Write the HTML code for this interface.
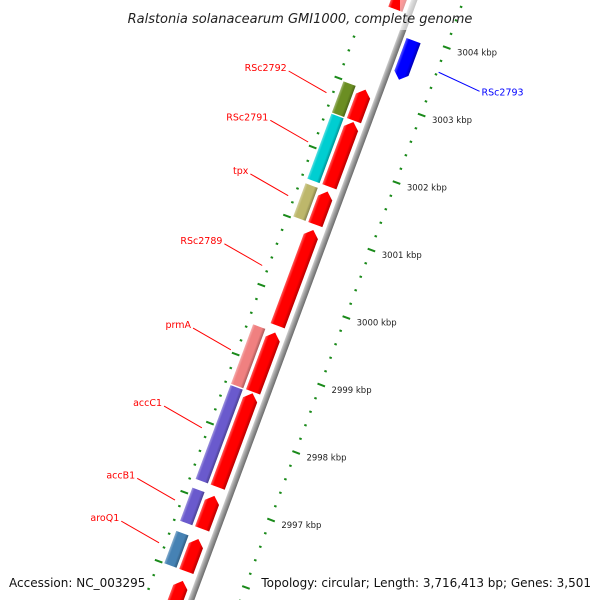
<!DOCTYPE html>
<html><head><meta charset="utf-8"><style>
html,body{margin:0;padding:0;background:#fff;overflow:hidden;width:600px;height:600px;}
svg{display:block;font-family:"DejaVu Sans","Liberation Sans",sans-serif;}
</style></head><body>
<svg id="map" width="600" height="600" viewBox="0 0 600 600" xmlns="http://www.w3.org/2000/svg">
<defs>
<linearGradient id="shade" x1="0" y1="0" x2="1" y2="0">
<stop offset="0" stop-color="#fff" stop-opacity="0.35"/>
<stop offset="0.2" stop-color="#fff" stop-opacity="0"/>
<stop offset="0.75" stop-color="#000" stop-opacity="0"/>
<stop offset="1" stop-color="#000" stop-opacity="0.3"/>
</linearGradient>
<linearGradient id="bb" x1="0" y1="0" x2="1" y2="0">
<stop offset="0" stop-color="#d0d0d0"/><stop offset="0.4" stop-color="#a0a0a0"/><stop offset="1" stop-color="#6a6a6a"/>
</linearGradient>
</defs>
<g id="rot" transform="translate(227,503.6) rotate(20.4)"></g>
<g id="labels"></g>
<rect x="400" y="0" width="35" height="30" fill="#fff" fill-opacity="0.6"/>
<rect x="340" y="0" width="30" height="30" fill="#fff" fill-opacity="0.7"/>
<text x="300" y="23" text-anchor="middle" font-size="13" font-style="italic" fill="#222">Ralstonia solanacearum GMI1000, complete genome</text>
<text x="9" y="587" font-size="12" fill="#111">Accession: NC_003295</text>
<text x="591" y="587" text-anchor="end" font-size="12" fill="#111">Topology: circular; Length: 3,716,413 bp; Genes: 3,501</text>
</svg>
<script>
const geneNames=["","RSc2792","RSc2791","tpx","RSc2789","prmA","accC1","accB1","aroQ1",""];
const geneStarts=[3004.25,3002.60,3001.62,3001.06,2999.56,2998.58,2997.17,2996.55,2995.92,2994.3];
const geneEnds=[3005.6,3003.06,3002.58,3001.55,3000.98,2999.46,2998.56,2997.04,2996.40,2995.78];
const geneColors=[null,"#6b8e23","#00ced1","#bdb76b",null,"#f08080","#6a5acd","#6a5acd","#4682b4",null];
const revNames=["RSc2793"];
const revStarts=[3003.35];
const revEnds=[3003.93];
const tickLabels=[2997,2998,2999,3000,3001,3002,3003,3004];

const NS="http://www.w3.org/2000/svg";
const ang=20.4*Math.PI/180;
const O=[227,503.6], D=[Math.sin(ang),-Math.cos(ang)], N=[Math.cos(ang),Math.sin(ang)], S=72, K0=2997;
function ly(k){return -(k-K0)*S;}
function P(k,v){const a=(k-K0)*S;return [O[0]+D[0]*a+N[0]*v,O[1]+D[1]*a+N[1]*v];}
const rot=document.getElementById('rot'), lab=document.getElementById('labels');
function mk(tag,attrs,parent){const e=document.createElementNS(NS,tag);for(const k in attrs)e.setAttribute(k,attrs[k]);(parent||rot).appendChild(e);return e;}

const bb=mk('rect',{x:-3,y:-560,width:6,height:720,fill:'url(#bb)'});



for(let i=0;i<=55;i++){const k=2994.6+i*0.2;const major=i%5===2;
 const t=mk('rect',major?{x:43,y:ly(k)-1,width:8,height:2,fill:'#1a8a1a'}:{x:45,y:ly(k)-1,width:2.5,height:2,fill:'#1a8a1a'});
 
 }
for(let i=-3;i<=38;i++){const k=3003.08-i*1.023/5;const major=((i%5)+5)%5===0;
 const t=mk('rect',major?{x:-48,y:ly(k)-1,width:8,height:2,fill:'#1a8a1a'}:{x:-45,y:ly(k)-1,width:2.5,height:2,fill:'#1a8a1a'});
 
 }
tickLabels.forEach(k=>{const p=P(k,58);
 const t=mk('text',{x:p[0],y:p[1]+4,'font-size':8.5,fill:'#222'},lab);t.textContent=k+' kbp';
 
 });

function gene(s,e,v1,v2,color,up,name,arrow){
 const y1=ly(s),y2=ly(e),h=arrow?7:0,vc=(v1+v2)/2;let pts;
 if(up)pts=[[v1,y1],[v1,y2+h],[vc,y2],[v2,y2+h],[v2,y1]];
 else pts=[[v1,y2],[v1,y1-h],[vc,y1],[v2,y1-h],[v2,y2]];
 const ps=pts.map(p=>p.join(',')).join(' ');
 const g=mk('polygon',{points:ps,fill:color});
 
 
 const o=mk('polygon',{points:ps,fill:'url(#shade)'});
 
 }

geneNames.forEach((n,i)=>{
 gene(geneStarts[i],geneEnds[i],-22,-7,'#ff0000',true,'cds-'+(n||'gene'+i),true);
 if(geneColors[i])gene(geneStarts[i],geneEnds[i],-38,-25,geneColors[i],true,'cog-'+n,false);
 if(n){const k=(geneStarts[i]+geneEnds[i])/2;const a=P(k,-50),b=P(k+0.1,-93);
  const l=mk('line',{x1:a[0],y1:a[1],x2:b[0],y2:b[1],stroke:'#ff0000','stroke-width':1},lab);
  
  
  const t=mk('text',{x:b[0]-2,y:b[1]+0,'text-anchor':'end','font-size':9.5,fill:'#ff0000'},lab);t.textContent=n;
  
  }
});
revNames.forEach((n,i)=>{
 gene(revStarts[i],revEnds[i],6,21,'#0000ff',false,'cds-'+n,true);
 const k=(revStarts[i]+revEnds[i])/2;const a=P(k,48),b=P(k-0.05,93);
 const l=mk('line',{x1:a[0],y1:a[1],x2:b[0],y2:b[1],stroke:'#0000ff','stroke-width':1},lab);
 
 
 const t=mk('text',{x:b[0]+2,y:b[1]+4,'font-size':9.5,fill:'#0000ff'},lab);t.textContent=n;
 
 
});
</script>
</body></html>
